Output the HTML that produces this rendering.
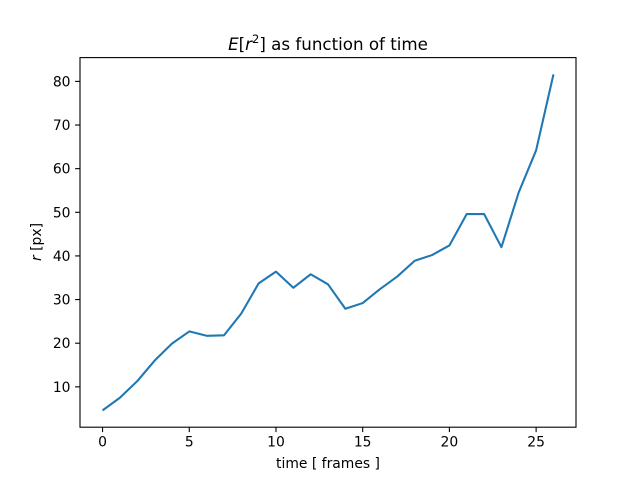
<!DOCTYPE html>
<html><head><meta charset="utf-8"><style>
body{margin:0;background:#fff}
svg{font-family:"DejaVu Sans","Liberation Sans",sans-serif}
</style></head><body>
<svg id="c" width="640" height="480">
<rect width="640" height="480" fill="#fff"/>
<text x="328" y="50" text-anchor="middle" font-size="16.7"><tspan font-style="italic">E</tspan>[<tspan font-style="italic">r</tspan><tspan font-size="11.5" dy="-7">2</tspan><tspan dy="7">] as function of time</tspan></text>
<g id="ax"></g>
<text x="328" y="468" text-anchor="middle" font-size="13.9">time [ frames ]</text>
<text transform="translate(41,242) rotate(-90)" text-anchor="middle" font-size="13.9"><tspan font-style="italic">r</tspan> [px]</text>
</svg>
<script>
const frames=[0,1,2,3,4,5,6,7,8,9,10,11,12,13,14,15,16,17,18,19,20,21,22,23,24,25,26];
const r2=[4.6,7.5,11.3,16,19.9,22.7,21.7,21.8,26.8,33.7,36.4,32.7,35.8,33.5,27.9,29.2,32.4,35.3,38.9,40.2,42.4,49.6,49.6,42,54.6,64.2,81.6];
const xTicks=[0,5,10,15,20,25];
const yTicks=[10,20,30,40,50,60,70,80];
const L=80,R=576,T=57.6,B=427.2;
const xmin=-1.3,xmax=27.3,ymin=0.75,ymax=85.45;
const sx=v=>L+(v-xmin)/(xmax-xmin)*(R-L);
const sy=v=>B-(v-ymin)/(ymax-ymin)*(B-T);
const NS="http://www.w3.org/2000/svg";
const g=document.getElementById('ax');
function mk(t,a){const e=document.createElementNS(NS,t);for(const k in a)e.setAttribute(k,a[k]);g.appendChild(e);return e;}
xTicks.forEach(v=>{
 const l=mk('line',{x1:sx(v),x2:sx(v),y1:B,y2:B+4.9,stroke:'#000','stroke-width':1.1});
 
 
 const t=mk('text',{x:sx(v),y:B+19.5,'text-anchor':'middle','font-size':13.9});
 t.textContent=v;
 
 
});
yTicks.forEach(v=>{
 const l=mk('line',{x1:L-4.9,x2:L,y1:sy(v),y2:sy(v),stroke:'#000','stroke-width':1.1});
 
 
 const t=mk('text',{x:L-9.5,y:sy(v)+5,'text-anchor':'end','font-size':13.9});
 t.textContent=v;
 
 
});
const p=mk('polyline',{points:frames.map((f,i)=>sx(f)+','+sy(r2[i])).join(' '),fill:'none',stroke:'#1f77b4','stroke-width':2.08,'stroke-linejoin':'round'});


const fr=mk('rect',{x:L,y:T,width:R-L,height:B-T,fill:'none',stroke:'#000','stroke-width':1.1});


</script>
</body></html>
